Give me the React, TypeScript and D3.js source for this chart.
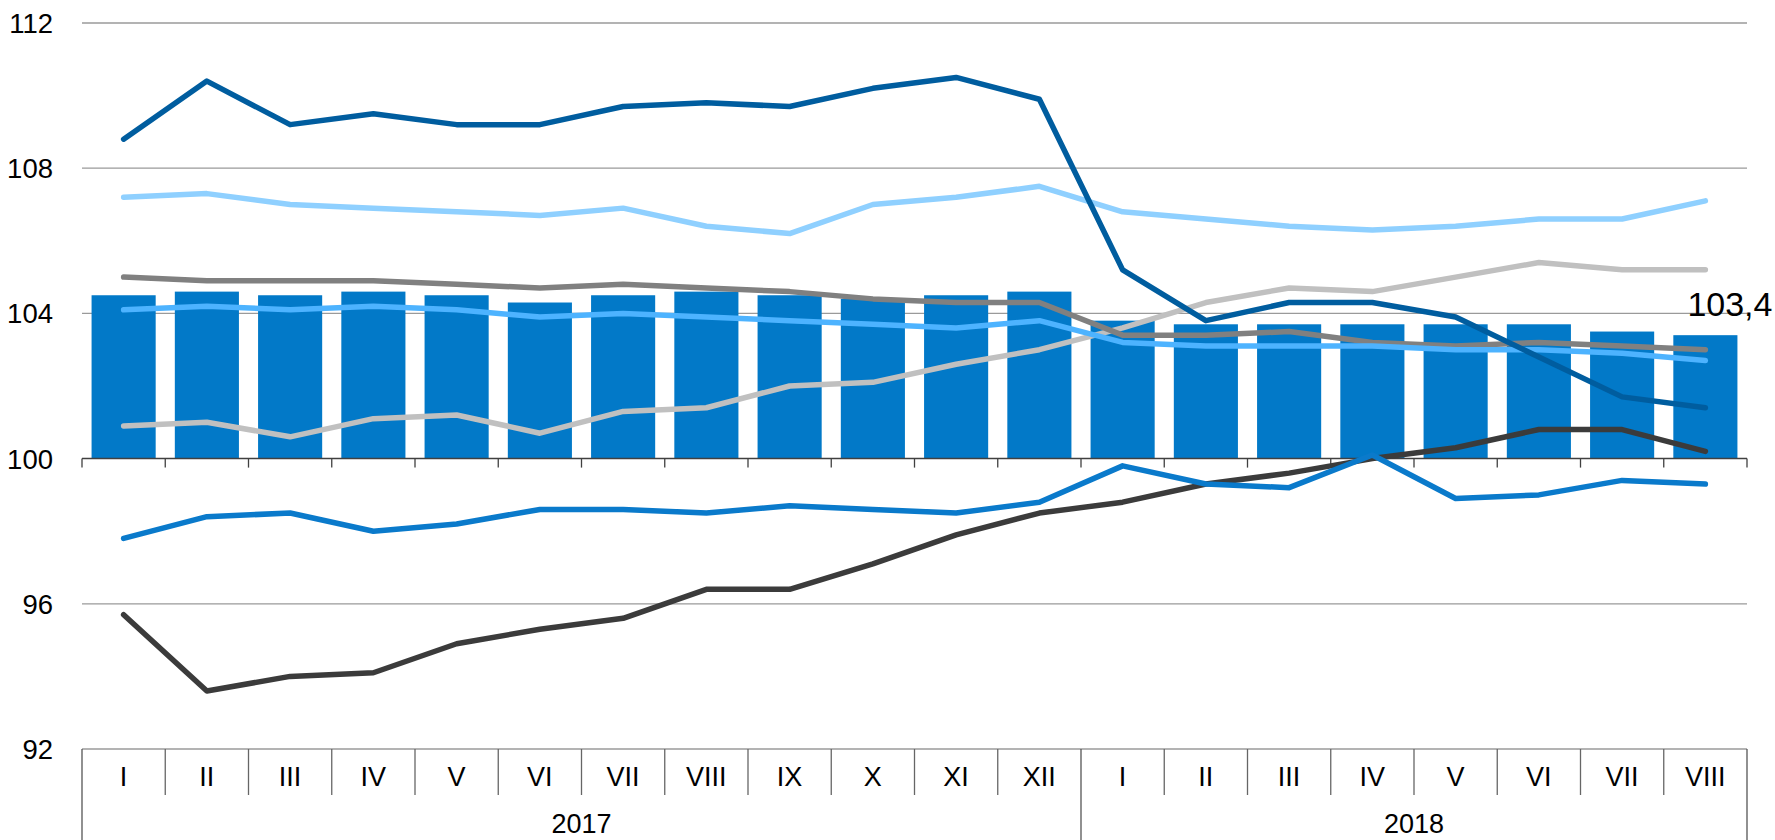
import React from 'react';
import * as d3 from 'd3';

const months = ['I','II','III','IV','V','VI','VII','VIII','IX','X','XI','XII','I','II','III','IV','V','VI','VII','VIII'];
const yearLabels = ['2017', '2018'];
const yearSpans = [12, 8];
const yTicks = [92, 96, 100, 104, 108, 112];
const gridTicks = [96, 104, 108, 112];

const barValues = [104.5,104.6,104.5,104.6,104.5,104.3,104.5,104.6,104.5,104.4,104.5,104.6,103.8,103.7,103.7,103.7,103.7,103.7,103.5,103.4];
const lastBarLabel = '103,4';

const seriesDarkBlue = [108.8,110.4,109.2,109.5,109.2,109.2,109.7,109.8,109.7,110.2,110.5,109.9,105.2,103.8,104.3,104.3,103.9,102.8,101.7,101.4];
const seriesLightBlue = [107.2,107.3,107.0,106.9,106.8,106.7,106.9,106.4,106.2,107.0,107.2,107.5,106.8,106.6,106.4,106.3,106.4,106.6,106.6,107.1];
const seriesDarkGrey = [105.0,104.9,104.9,104.9,104.8,104.7,104.8,104.7,104.6,104.4,104.3,104.3,103.4,103.4,103.5,103.2,103.1,103.2,103.1,103.0];
const seriesMidBlue = [104.1,104.2,104.1,104.2,104.1,103.9,104.0,103.9,103.8,103.7,103.6,103.8,103.2,103.1,103.1,103.1,103.0,103.0,102.9,102.7];
const seriesLightGrey = [100.9,101.0,100.6,101.1,101.2,100.7,101.3,101.4,102.0,102.1,102.6,103.0,103.6,104.3,104.7,104.6,105.0,105.4,105.2,105.2];
const seriesBlue = [97.8,98.4,98.5,98.0,98.2,98.6,98.6,98.5,98.7,98.6,98.5,98.8,99.8,99.3,99.2,100.1,98.9,99.0,99.4,99.3];
const seriesBlack = [95.7,93.6,94.0,94.1,94.9,95.3,95.6,96.4,96.4,97.1,97.9,98.5,98.8,99.3,99.6,100.0,100.3,100.8,100.8,100.2];

const lineSeries = [
  { values: seriesBlack, color: '#3b3b3b' },
  { values: seriesLightGrey, color: '#c0c0c0' },
  { values: seriesDarkGrey, color: '#808080' },
  { values: seriesMidBlue, color: '#4db3ff' },
  { values: seriesLightBlue, color: '#8fd0ff' },
  { values: seriesBlue, color: '#0a7acb' },
  { values: seriesDarkBlue, color: '#005d9f' },
];

const W = 1775, H = 840;
const left = 82, right = 1747, top = 23, bottom = 749;
const FONT = '"Liberation Sans Narrow", "Arial Narrow", sans-serif';

export default function App() {
  const idx = months.map((_, i) => i);
  const x = d3.scaleBand<number>().domain(idx).range([left, right]).paddingInner(0.23).paddingOuter(0.115);
  const xb = d3.scaleLinear().domain([0, months.length]).range([left, right]);
  const y = d3.scaleLinear().domain([92, 112]).range([bottom, top]);
  const cx = (i: number) => (x(i) as number) + x.bandwidth() / 2;
  const line = d3.line<number>().x((_, i) => cx(i)).y(v => y(v));

  const yearBounds: number[] = [0];
  yearSpans.forEach(s => yearBounds.push(yearBounds[yearBounds.length - 1] + s));

  const last = barValues.length - 1;

  return (
    <svg width={W} height={H} style={{ position: 'absolute', left: 0, top: 0, background: '#fff' }}>
      {gridTicks.map(t => (
        <line key={t} x1={left} x2={right} y1={y(t)} y2={y(t)} stroke="#9a9a9a" strokeWidth={1.3} />
      ))}
      {barValues.map((v, i) => (
        <rect key={i} x={x(i)} y={y(v)} width={x.bandwidth()} height={y(100) - y(v)} fill="#0279c8" />
      ))}
      <line x1={left} x2={right} y1={y(100)} y2={y(100)} stroke="#404040" strokeWidth={1.5} />
      {d3.range(months.length + 1).map(i => (
        <line key={i} x1={xb(i)} x2={xb(i)} y1={y(100)} y2={y(100) + 9} stroke="#404040" strokeWidth={1.3} />
      ))}
      {lineSeries.map((s, k) => (
        <path key={k} d={line(s.values) || ''} fill="none" stroke={s.color} strokeWidth={5.5} strokeLinecap="round" strokeLinejoin="round" />
      ))}
      {yTicks.map(t => (
        <text key={t} x={53} y={y(t)} dy="0.36em" textAnchor="end" fontFamily={FONT} fontSize={27.5} fill="#000">{t}</text>
      ))}
      <line x1={left} x2={right} y1={bottom} y2={bottom} stroke="#9a9a9a" strokeWidth={1.3} />
      {d3.range(months.length + 1).map(i => {
        const isYear = yearBounds.includes(i);
        return <line key={i} x1={xb(i)} x2={xb(i)} y1={bottom} y2={isYear ? H : 795} stroke={isYear ? '#555' : '#666'} strokeWidth={1.3} />;
      })}
      {months.map((m, i) => (
        <text key={i} x={xb(i + 0.5)} y={776} dy="0.36em" textAnchor="middle" fontFamily={FONT} fontSize={27} fill="#000">{m}</text>
      ))}
      {yearLabels.map((lab, k) => (
        <text key={lab} x={xb((yearBounds[k] + yearBounds[k + 1]) / 2)} y={823} dy="0.36em" textAnchor="middle" fontFamily={FONT} fontSize={27} fill="#000">{lab}</text>
      ))}
      <text x={cx(last) - 18} y={y(barValues[last]) - 19} textAnchor="start" fontFamily={FONT} fontSize={34} fill="#000">{lastBarLabel}</text>
    </svg>
  );
}
